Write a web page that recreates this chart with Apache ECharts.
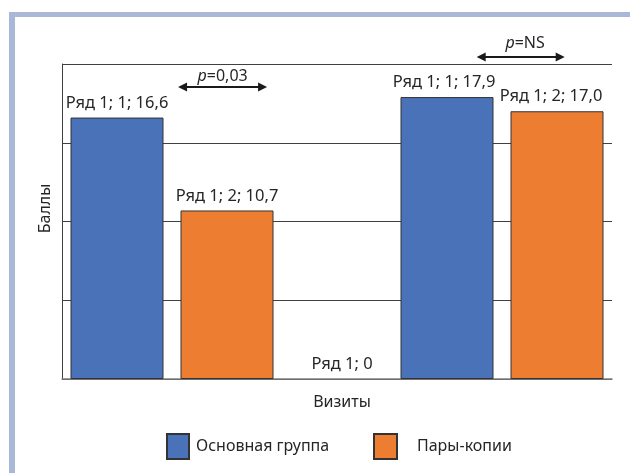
<!DOCTYPE html>
<html>
<head>
<meta charset="utf-8">
<script src="https://cdn.jsdelivr.net/npm/echarts@6/dist/echarts.min.js"></script>
<style>
html,body{margin:0;padding:0;background:#fff;}
#c{width:630px;height:473px;}
</style>
</head>
<body>
<div id="c"></div>
<script>
// ---- data ----
const categories = ['1', '2', '3', '4', '5'];
const seriesNames = ['Основная группа', 'Пары-копии'];
const mainValues = [16.6, null, 0, 17.9, null];
const copyValues = [null, 10.7, null, null, 17.0];
const mainLabels = ['Ряд 1; 1; 16,6', '', 'Ряд 1; 0', 'Ряд 1; 1; 17,9', ''];
const copyLabels = ['', 'Ряд 1; 2; 10,7', '', '', 'Ряд 1; 2; 17,0'];
const yAxisName = 'Баллы';
const xAxisName = 'Визиты';
// significance annotations (category-index x range, value y)
const annotations = [
  { text: '0,03', x1: 0.555, x2: 1.364, yArrow: 18.54, yText: 19.2, xText: 0.96 },
  { text: 'NS', x1: 3.27, x2: 4.07, yArrow: 20.44, yText: 21.33, xText: 3.71 }
];

const FONT = '"Noto Sans", sans-serif';
const TXT = '#262626';
const BLUE = '#4a72b8';
const ORANGE = '#ed7d31';
const EDGE = '#333333';

const chart = echarts.init(document.getElementById('c'), null, { renderer: 'canvas' });

function mkData(vals, labels, offsets) {
  return vals.map((v, i) => {
    if (v === null) return '-';
    const item = { value: v, label: { formatter: labels[i] } };
    if (offsets && offsets[i]) item.label.offset = offsets[i];
    if (v === 0) item.itemStyle = { borderWidth: 0 };
    return item;
  });
}

const option = {
  backgroundColor: '#ffffff',
  animation: false,
  textStyle: { fontFamily: FONT },
  grid: { left: 62, right: 18, top: 64, bottom: 94 },
  legend: [
    {
      data: [seriesNames[0]],
      icon: 'rect',
      left: 161, top: 428,
      itemWidth: 22, itemHeight: 25, itemGap: 0,
      textStyle: { fontFamily: FONT, fontSize: 16, color: TXT, padding: [6, 0, 0, 2] },
      selectedMode: false
    },
    {
      data: [seriesNames[1]],
      icon: 'rect',
      left: 368, top: 428,
      itemWidth: 23, itemHeight: 25, itemGap: 0,
      textStyle: { fontFamily: FONT, fontSize: 16, color: TXT, padding: [6, 0, 0, 15] },
      selectedMode: false
    }
  ],
  xAxis: [
    {
      type: 'category',
      data: categories,
      boundaryGap: true,
      axisLine: { show: true, lineStyle: { color: '#7f7f7f', width: 1.5 } },
      axisTick: { show: false },
      axisLabel: { show: false },
      name: xAxisName,
      nameLocation: 'middle',
      nameGap: 15,
      nameTextStyle: { fontFamily: FONT, fontSize: 16, color: TXT, padding: [0, 0, 0, 10] }
    },
    {
      type: 'value',
      min: -0.5, max: 4.5,
      show: false
    }
  ],
  yAxis: {
    type: 'value',
    min: 0, max: 20, interval: 5,
    axisLine: { show: true, onZero: false, lineStyle: { color: '#404040', width: 1 } },
    axisTick: { show: false },
    axisLabel: { show: false },
    splitLine: { show: true, lineStyle: { color: '#404040', width: 1 } },
    name: yAxisName,
    nameLocation: 'middle',
    nameGap: 9,
    nameRotate: 90,
    nameTextStyle: { fontFamily: FONT, fontSize: 16, color: TXT, padding: [0, 0, 0, 26] }
  },
  series: [
    {
      name: seriesNames[0],
      type: 'bar',
      barWidth: 93,
      barGap: '-100%',
      data: mkData(mainValues, mainLabels, [null, null, [5, 0], [-3, 0], null]),
      itemStyle: { color: BLUE, borderColor: EDGE, borderWidth: 1 },
      label: { show: true, position: 'top', distance: 6, fontFamily: FONT, fontSize: 16.5, color: TXT }
    },
    {
      name: seriesNames[1],
      type: 'bar',
      barWidth: 93,
      barGap: '-100%',
      data: mkData(copyValues, copyLabels, [null, null, null, null, [-6, 0]]),
      itemStyle: { color: ORANGE, borderColor: EDGE, borderWidth: 1 },
      label: { show: true, position: 'top', distance: 6, fontFamily: FONT, fontSize: 16.5, color: TXT }
    }
  ],
  graphic: []
};

chart.setOption(option);

// annotations computed through the library's scales
function px(x, y) {
  return chart.convertToPixel({ xAxisIndex: 1, yAxisIndex: 0 }, [x, y]);
}
const g = [];
// frame band (decor)
g.push({ type: 'rect', shape: { x: 9, y: 12, width: 621, height: 5 }, style: { fill: '#aab8d8' }, silent: true });
g.push({ type: 'rect', shape: { x: 9, y: 12, width: 6, height: 461 }, style: { fill: '#aab8d8' }, silent: true });
annotations.forEach(a => {
  const p1 = px(a.x1, a.yArrow), p2 = px(a.x2, a.yArrow), pt = px(a.xText, a.yText);
  const ah = 9, aw = 4.5;
  g.push({ type: 'line', shape: { x1: p1[0] + 4, y1: p1[1], x2: p2[0] - 4, y2: p2[1] }, style: { stroke: '#1a1a1a', lineWidth: 2 }, silent: true });
  g.push({ type: 'polygon', shape: { points: [[p1[0], p1[1]], [p1[0] + ah, p1[1] - aw], [p1[0] + ah, p1[1] + aw]] }, style: { fill: '#1a1a1a' }, silent: true });
  g.push({ type: 'polygon', shape: { points: [[p2[0], p2[1]], [p2[0] - ah, p2[1] - aw], [p2[0] - ah, p2[1] + aw]] }, style: { fill: '#1a1a1a' }, silent: true });
  g.push({
    type: 'text', x: pt[0], y: pt[1], silent: true,
    style: {
      text: '{i|p}{n|=' + a.text + '}',
      align: 'center', verticalAlign: 'middle',
      rich: {
        i: { fontFamily: FONT, fontSize: 16, fontStyle: 'italic', fill: TXT },
        n: { fontFamily: FONT, fontSize: 16, fill: TXT }
      }
    }
  });
});
chart.setOption({ graphic: g });
</script>
</body>
</html>
